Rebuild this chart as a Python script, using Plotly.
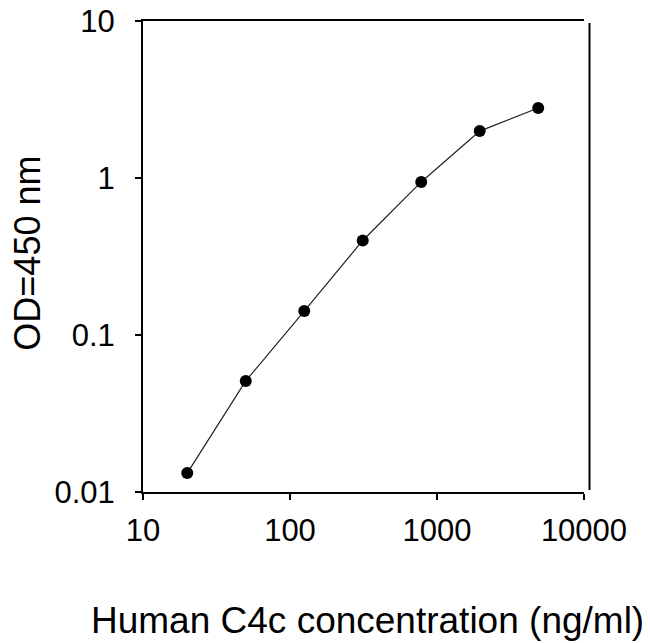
import plotly.graph_objects as go

# standard curve, 2.5x dilution series
conc = [20, 50, 125, 312.5, 781.25, 1953, 4883]
od = [0.0132, 0.051, 0.142, 0.40, 0.944, 1.99, 2.79]

x_ticks = [10, 100, 1000, 10000]
x_tick_text = ["10", "100", "1000", "10000"]
y_ticks = [0.01, 0.1, 1, 10]
y_tick_text = ["0.01", "0.1", "1", "10"]

x_title = "Human C4c concentration (ng/ml)"
y_title = "OD=450 nm"

font_family = "Arial, Liberation Sans, sans-serif"

fig = go.Figure()
fig.add_trace(go.Scatter(
    x=conc,
    y=od,
    mode="lines+markers",
    line=dict(color="#222222", width=1.2),
    marker=dict(color="black", size=12, symbol="circle"),
    showlegend=False,
))

axis_style = dict(
    type="log",
    showgrid=False,
    zeroline=False,
    showline=True,
    linecolor="black",
    linewidth=2,
    ticks="outside",
    ticklen=6,
    tickwidth=1.5,
    tickcolor="black",
    tickfont=dict(size=31, color="black", family=font_family),
    ticklabeloverflow="allow",
    automargin=False,
)

fig.update_xaxes(range=[1, 4.0001], tickvals=x_ticks, ticktext=x_tick_text,
                 mirror=True, ticklabelstandoff=4, **axis_style)
fig.update_yaxes(range=[-2, 1.0001], tickvals=y_ticks, ticktext=y_tick_text,
                 ticklabelstandoff=14, **axis_style)

# axis titles
fig.add_annotation(text=x_title, xref="paper", yref="paper",
                   x=0.509, y=-0.272, xanchor="center", yanchor="middle",
                   showarrow=False,
                   font=dict(size=37, color="black", family=font_family))
fig.add_annotation(text=y_title, xref="paper", yref="paper",
                   x=-0.262, y=0.507, xanchor="center", yanchor="middle",
                   textangle=-90, showarrow=False,
                   font=dict(size=36, color="black", family=font_family))

# right border sits a little outside the last x tick
fig.add_shape(type="line", xref="paper", yref="paper",
              x0=1.0125, x1=1.0125, y0=0.004, y1=0.996,
              line=dict(color="black", width=2))

fig.update_layout(
    width=650,
    height=643,
    margin=dict(l=135, r=74, t=13, b=159),
    plot_bgcolor="white",
    paper_bgcolor="white",
)

fig.write_html("out.html")
